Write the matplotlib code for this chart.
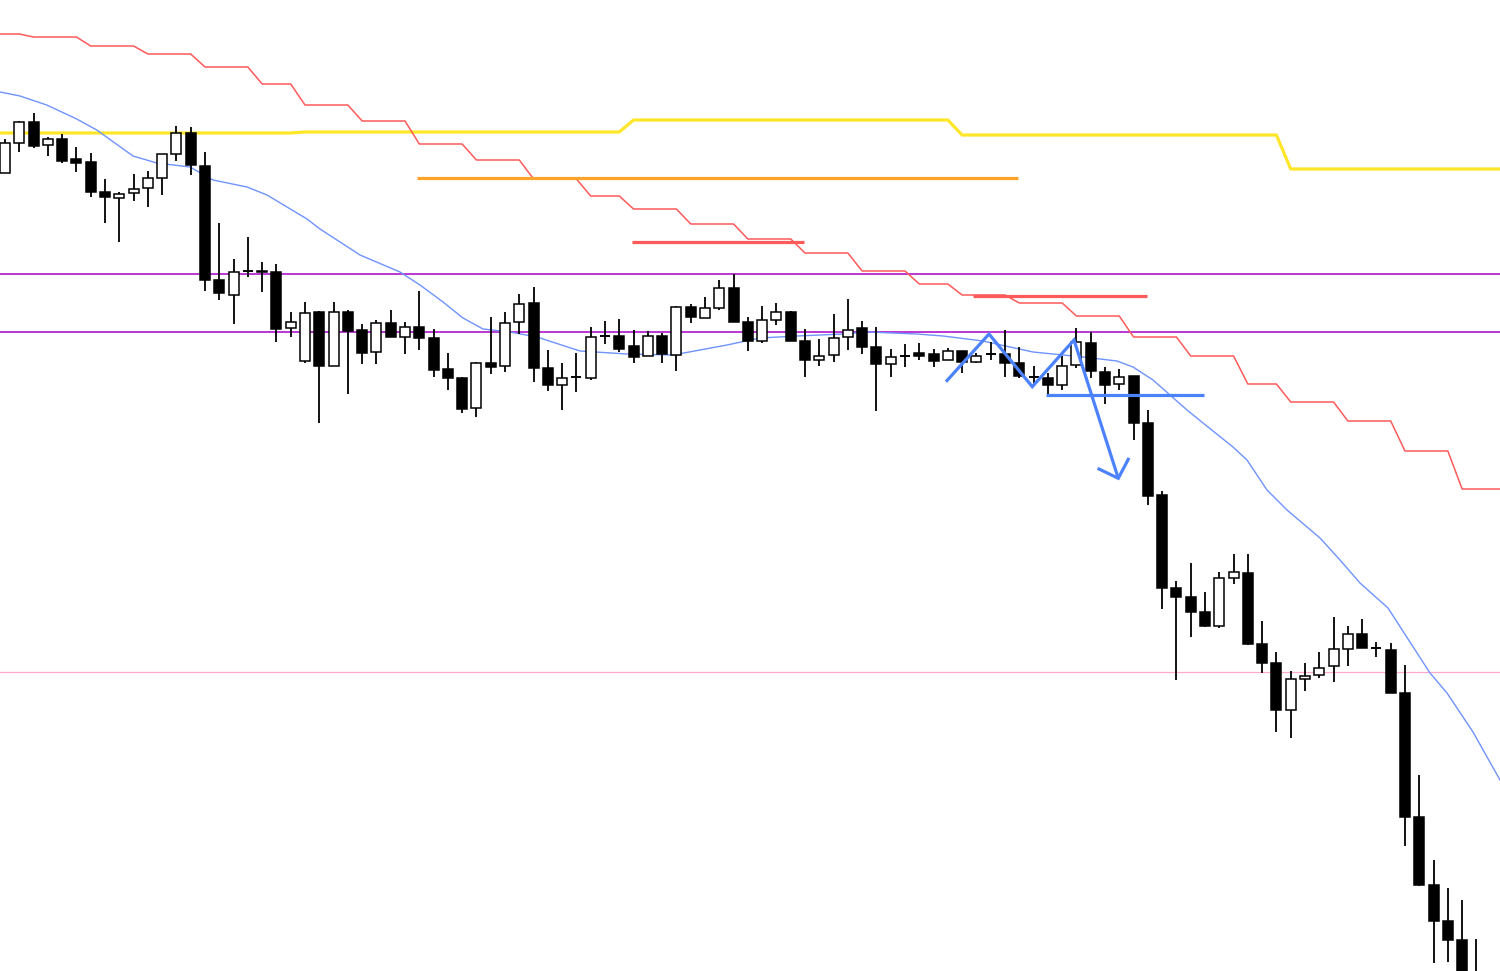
import matplotlib
matplotlib.use('Agg')
import matplotlib.pyplot as plt

# price levels (screen units, larger = lower price)
opens = [173, 143, 122, 145, 139, 159, 162, 192, 198, 193,
         188, 178, 154, 133, 166, 280, 295, 271, 271, 272,
         328, 361, 312, 366, 312, 330, 352, 323, 337, 327,
         338, 369, 378, 408, 363, 366, 322, 303, 368, 385,
         377, 378, 336, 336, 346, 356, 336, 355, 307, 318,
         308, 288, 322, 341, 320, 312, 341, 360, 355, 337,
         328, 347, 364, 356, 353, 354, 360, 351, 362, 354,
         354, 363, 377, 378, 385, 365, 343, 372, 384, 376,
         423, 495, 588, 597, 612, 626, 578, 573, 644, 663,
         710, 679, 675, 666, 649, 634, 648, 650, 693, 817,
         885, 921, 940, 980]
highs = [139, 121, 113, 137, 134, 147, 153, 179, 192, 174,
         171, 154, 126, 127, 152, 223, 259, 237, 262, 264,
         312, 302, 311, 302, 310, 324, 320, 310, 322, 291,
         329, 353, 377, 362, 317, 312, 294, 287, 350, 363,
         353, 327, 321, 319, 330, 331, 333, 306, 304, 297,
         280, 274, 317, 306, 303, 311, 329, 339, 314, 299,
         321, 327, 349, 344, 343, 349, 348, 351, 353, 342,
         330, 347, 366, 373, 356, 328, 332, 367, 369, 376,
         410, 491, 581, 563, 592, 572, 554, 554, 621, 652,
         671, 663, 652, 617, 626, 619, 642, 643, 665, 775,
         860, 888, 900, 939]
lows = [173, 152, 148, 156, 163, 172, 197, 223, 242, 201,
        207, 195, 161, 175, 291, 300, 324, 277, 292, 342,
        337, 363, 423, 366, 394, 364, 364, 337, 354, 350,
        377, 390, 413, 417, 374, 372, 334, 382, 391, 410,
        392, 380, 344, 352, 363, 356, 363, 371, 323, 318,
        310, 322, 351, 343, 325, 341, 377, 366, 362, 350,
        354, 411, 377, 367, 360, 367, 360, 373, 363, 360,
        377, 378, 386, 395, 390, 368, 378, 404, 390, 440,
        505, 609, 680, 637, 627, 628, 584, 645, 673, 732,
        738, 691, 678, 682, 666, 648, 657, 693, 846, 886,
        963, 962, 990, 1010]
closes = [143, 122, 146, 139, 161, 163, 192, 197, 194, 189,
          178, 154, 133, 165, 280, 293, 272, 271, 272, 329,
          322, 313, 366, 312, 331, 353, 323, 337, 327, 338,
          370, 378, 409, 363, 367, 323, 304, 368, 385, 378,
          377, 337, 336, 349, 357, 336, 354, 307, 317, 308,
          288, 322, 341, 320, 312, 341, 360, 356, 338, 330,
          347, 364, 357, 356, 356, 361, 351, 362, 356, 354,
          363, 376, 377, 385, 366, 342, 371, 385, 377, 423,
          496, 588, 597, 612, 626, 578, 572, 644, 663, 710,
          679, 676, 668, 649, 634, 648, 648, 693, 817, 885,
          921, 940, 985, 1000]

# moving average, read at a few bar positions
ma_idx = [-0.35, 1.05, 2.92, 5.02, 6.42, 8.96, 10.62, 12.95, 14.56, 16.94,
          18.34, 21.14, 22.05, 24.85, 27.65, 29.05, 30.66, 32.06, 33.46, 35.35,
          37.24, 40.25, 43.54, 46.76, 48.65, 50.54, 52.85, 55.44, 58.66, 60.34,
          63.84, 65.66, 68.46, 70.35, 71.96, 75.46, 77.84, 78.96, 80.36, 82.74,
          83.86, 85.96, 86.94, 88.34, 89.74, 92.05, 93.45, 94.85, 96.81, 99.75,
          100.94, 102.76, 104.65]
ma_val = [92, 96, 105, 119, 130, 156, 163, 167, 180, 187,
          195, 219, 229, 255, 272, 285, 302, 318, 329, 332,
          337, 351, 354, 355, 350, 345, 338, 336, 334, 332,
          334, 336, 341, 347, 352, 357, 361, 367, 380, 410,
          423, 447, 460, 490, 510, 538, 560, 583, 608, 673,
          693, 732, 780]

# stepped lines, one value per bar from index -1 to 105
step_idx = list(range(-1, 106))
red_step = [34, 34, 34, 37, 37, 37, 37, 46, 46, 46,
            46, 54, 54, 54, 54, 67, 67, 67, 67, 84,
            84, 84, 105, 105, 105, 105, 121, 121, 121, 121,
            144, 144, 144, 144, 160, 160, 160, 160, 179, 179,
            179, 179, 196, 196, 196, 209, 209, 209, 209, 224,
            224, 224, 224, 239, 239, 239, 239, 253, 253, 253,
            253, 271, 271, 271, 271, 284, 284, 284, 295, 295,
            295, 295, 303, 303, 303, 303, 316, 316, 316, 316,
            337, 337, 337, 337, 356, 356, 356, 356, 384, 384,
            384, 402, 402, 402, 402, 421, 421, 421, 421, 451,
            451, 451, 451, 489, 489, 489, 489]
yellow_step = [133, 133, 133, 133, 133, 133, 133, 133, 133, 133,
               133, 133, 133, 133, 133, 133, 133, 133, 133, 133,
               133, 133, 132, 132, 132, 132, 132, 132, 132, 132,
               132, 132, 132, 132, 132, 132, 132, 132, 132, 132,
               132, 132, 132, 132, 132, 120, 120, 120, 120, 120,
               120, 120, 120, 120, 120, 120, 120, 120, 120, 120,
               120, 120, 120, 120, 120, 120, 120, 120, 135, 135,
               135, 135, 135, 135, 135, 135, 135, 135, 135, 135,
               135, 135, 135, 135, 135, 135, 135, 135, 135, 135,
               135, 169, 169, 169, 169, 169, 169, 169, 169, 169,
               169, 169, 169, 169, 169, 169, 169]

# horizontal levels
purple_levels = [274.3, 332.3]
pink_level = 672.3
orange_seg = (28.86, 70.93, 177.7)
red_segs = [(43.87, 55.95, 242.3), (67.78, 79.92, 295.7)]

# hand-drawn blue annotations
zig_x = [65.87, 68.88, 71.91, 74.83, 77.93]
zig_y = [381.7, 334.0, 386.7, 340.0, 478.3]
head_x = [76.58, 77.93, 78.63]
head_y = [469.0, 478.3, 459.3]
neck_seg = (72.85, 83.93, 395.3)


def main():
    fig = plt.figure(figsize=(15, 9.71), dpi=100)
    ax = fig.add_axes([0, 0, 1, 1])

    for y in purple_levels:
        ax.axhline(y, color='#a800c8', lw=1.1, zorder=1)
    ax.axhline(pink_level, color='#ffaacc', lw=0.9, zorder=1)

    ax.plot(step_idx, yellow_step, color='#ffe629', lw=2.3, zorder=2)
    ax.plot(step_idx, red_step, color='#ff5a5a', lw=1.1, zorder=2)
    ax.plot(ma_idx, ma_val, color='#6f93ff', lw=1.0, zorder=2)

    ax.hlines(orange_seg[2], orange_seg[0], orange_seg[1],
              color='#ffa42a', lw=2.3, zorder=2)
    for x0, x1, y in red_segs:
        ax.hlines(y, x0, x1, color='#ff5a5a', lw=2.3, zorder=2)

    # candles
    xs = list(range(len(opens)))
    ax.vlines(xs, highs, lows, color='black', lw=1.3, zorder=3)
    for x, o, c in zip(xs, opens, closes):
        if o == c:
            ax.hlines(o, x - 0.35, x + 0.35, color='black', lw=1.4, zorder=4)
            continue
        face = 'white' if c < o else 'black'
        ax.bar(x, abs(o - c), bottom=min(o, c), width=0.7, color=face,
               edgecolor='black', linewidth=1.1, zorder=4)

    # annotations
    ax.plot(zig_x, zig_y, color='#4d82ff', lw=2.3, zorder=5,
            solid_joinstyle='miter', solid_capstyle='butt')
    ax.plot(head_x, head_y, color='#4d82ff', lw=2.3, zorder=5,
            solid_joinstyle='miter')
    ax.hlines(neck_seg[2], neck_seg[0], neck_seg[1], color='#4d82ff',
              lw=2.3, zorder=5)

    ax.set_xlim(-0.35, 104.65)
    ax.set_ylim(971, 0)
    ax.axis('off')

    plt.savefig('out.png', dpi=100)


if __name__ == '__main__':
    main()
